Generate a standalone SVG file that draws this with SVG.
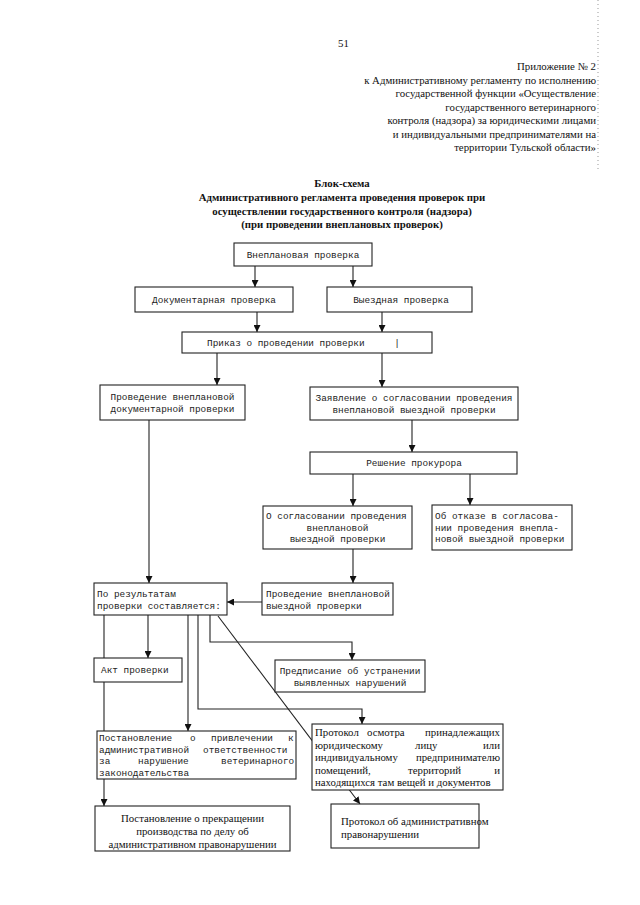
<svg xmlns="http://www.w3.org/2000/svg" width="640" height="905" viewBox="0 0 640 905">
<style>
.bg{fill:#ffffff}
.box{fill:#ffffff;stroke:#222;stroke-width:1.1}
.mono{font-family:"Liberation Mono","DejaVu Sans Mono",monospace;font-size:9.4px;fill:#222}
.serif{font-family:"Liberation Serif","Times New Roman",serif;font-size:10.8px;fill:#111}
.title{font-family:"Liberation Serif","Times New Roman",serif;font-size:10.8px;font-weight:bold;fill:#111;text-anchor:middle}
.hdr{font-family:"Liberation Serif","Times New Roman",serif;font-size:10.8px;fill:#111;text-anchor:end}
.c{text-anchor:middle}
.e{text-anchor:end}
.ln{fill:none;stroke:#222;stroke-width:1.1}
.arr{marker-end:url(#ah)}
.scan{fill:none;stroke:#999;stroke-width:1;stroke-dasharray:1,3}
</style>
<defs>
<marker id="ah" markerUnits="userSpaceOnUse" markerWidth="7" markerHeight="7" refX="7" refY="3.5" orient="auto">
<path d="M0,0 L7,3.5 L0,7 z" fill="#111"/>
</marker>
</defs>
<rect class="bg" x="0" y="0" width="640" height="905"/>
<line class="scan" x1="598" y1="0" x2="598" y2="170"/>

<g id="header">
<text class="serif" x="338" y="47">51</text>
<text class="hdr" x="596" y="70">Приложение № 2</text>
<text class="hdr" x="596" y="83.5">к Административному регламенту по исполнению</text>
<text class="hdr" x="596" y="97">государственной функции «Осуществление</text>
<text class="hdr" x="596" y="110.5">государственного ветеринарного</text>
<text class="hdr" x="596" y="124">контроля (надзора) за юридическими лицами</text>
<text class="hdr" x="596" y="137.5">и индивидуальными предпринимателями на</text>
<text class="hdr" x="596" y="151">территории Тульской области»</text>
</g>

<g id="title">
<text class="title" x="342" y="187">Блок-схема</text>
<text class="title" x="342" y="201">Административного регламента проведения проверок при</text>
<text class="title" x="342" y="215">осуществлении государственного контроля (надзора)</text>
<text class="title" x="342" y="228">(при проведении внеплановых проверок)</text>
</g>

<g id="connectors">
<line class="ln arr" x1="255" y1="266" x2="255" y2="287"/>
<line class="ln arr" x1="353" y1="266" x2="353" y2="287"/>
<line class="ln arr" x1="257" y1="312" x2="257" y2="332"/>
<line class="ln arr" x1="382" y1="312" x2="382" y2="332"/>
<line class="ln arr" x1="217" y1="353" x2="217" y2="385"/>
<line class="ln arr" x1="382" y1="353" x2="382" y2="387"/>
<line class="ln arr" x1="149" y1="420" x2="149" y2="583"/>
<line class="ln arr" x1="412" y1="420" x2="412" y2="452"/>
<line class="ln arr" x1="353" y1="474" x2="353" y2="506"/>
<line class="ln arr" x1="470" y1="474" x2="470" y2="505"/>
<line class="ln arr" x1="353" y1="549" x2="353" y2="583"/>
<line class="ln arr" x1="262" y1="602" x2="227" y2="602"/>
<line class="ln arr" x1="148" y1="615" x2="148" y2="658"/>
<line class="ln arr" x1="104" y1="615" x2="104" y2="806"/>
<line class="ln arr" x1="188" y1="615" x2="188" y2="731"/>
<polyline class="ln arr" points="198,615 198,709 362,709 362,724"/>
<polyline class="ln arr" points="210,615 210,642 352,642 352,660"/>
<line class="ln arr" x1="218" y1="616" x2="360" y2="804"/>
</g>

<g id="n1">
<rect class="box" x="234" y="243" width="138" height="23"/>
<text class="mono c" x="303" y="258">Внеплановая проверка</text>
</g>
<g id="n2">
<rect class="box" x="135" y="287" width="158" height="25"/>
<text class="mono c" x="214" y="303">Документарная проверка</text>
</g>
<g id="n3">
<rect class="box" x="327" y="287" width="145" height="25"/>
<text class="mono c" x="401" y="303">Выездная проверка</text>
</g>
<g id="n4">
<rect class="box" x="182" y="332" width="250" height="21"/>
<text class="mono" x="207" y="346">Приказ о проведении проверки</text>
<text class="mono c" x="397" y="346">|</text>
</g>
<g id="n5">
<rect class="box" x="100" y="385" width="145" height="35"/>
<text class="mono c" x="172.5" y="400">Проведение внеплановой</text>
<text class="mono c" x="172.5" y="412">документарной проверки</text>
</g>
<g id="n6">
<rect class="box" x="310" y="387" width="208" height="33"/>
<text class="mono c" x="414" y="401">Заявление о согласовании проведения</text>
<text class="mono c" x="414" y="413">внеплановой выездной проверки</text>
</g>
<g id="n7">
<rect class="box" x="310" y="452" width="207" height="22"/>
<text class="mono c" x="414" y="466">Решение прокурора</text>
</g>
<g id="n8">
<rect class="box" x="263" y="506" width="149" height="43"/>
<text class="mono" x="266" y="519">О согласовании проведения</text>
<text class="mono c" x="337.5" y="530.5">внеплановой</text>
<text class="mono c" x="337.5" y="542">выездной проверки</text>
</g>
<g id="n9">
<rect class="box" x="432" y="505" width="140" height="45"/>
<text class="mono" x="435" y="519">Об отказе в согласова-</text>
<text class="mono" x="435" y="530.5">нии проведения внепла-</text>
<text class="mono" x="435" y="542">новой выездной проверки</text>
</g>
<g id="n10">
<rect class="box" x="94" y="583" width="133" height="32"/>
<text class="mono" x="97" y="597">По результатам</text>
<text class="mono" x="97" y="609">проверки составляется:</text>
</g>
<g id="n11">
<rect class="box" x="262" y="583" width="131" height="32"/>
<text class="mono" x="266" y="597">Проведение внеплановой</text>
<text class="mono" x="266" y="609">выездной проверки</text>
</g>
<g id="n12">
<rect class="box" x="94" y="658" width="88" height="24"/>
<text class="mono" x="101" y="673">Акт проверки</text>
</g>
<g id="n13">
<rect class="box" x="275" y="660" width="150" height="32"/>
<text class="mono c" x="350" y="674">Предписание об устранении</text>
<text class="mono c" x="350" y="686">выявленных нарушений</text>
</g>
<g id="n14">
<rect class="box" x="97" y="731" width="199" height="48"/>
<text class="mono" y="741"><tspan x="99">Постановление</tspan><tspan x="190">о</tspan><tspan x="211">привлечении</tspan><tspan x="288">к</tspan></text>
<text class="mono" y="752.5"><tspan x="99">административной</tspan><tspan x="203">ответственности</tspan></text>
<text class="mono" y="764"><tspan x="99">за</tspan><tspan x="138">нарушение</tspan><tspan x="221">ветеринарного</tspan></text>
<text class="mono" x="99" y="775.5">законодательства</text>
</g>
<g id="n15">
<rect class="box" x="312" y="724" width="191" height="66"/>
<text class="serif" y="736"><tspan x="315">Протокол</tspan><tspan x="367">осмотра</tspan></text>
<text class="serif e" x="500" y="736">принадлежащих</text>
<text class="serif" y="748.5"><tspan x="315">юридическому</tspan><tspan x="415">лицу</tspan></text>
<text class="serif e" x="500" y="748.5">или</text>
<text class="serif" x="315" y="761">индивидуальному</text>
<text class="serif e" x="500" y="761">предпринимателю</text>
<text class="serif" y="773.5"><tspan x="315">помещений,</tspan><tspan x="408">территорий</tspan></text>
<text class="serif e" x="500" y="773.5">и</text>
<text class="serif" x="315" y="786">находящихся там вещей и документов</text>
</g>
<g id="n16">
<rect class="box" x="95" y="806" width="195" height="45"/>
<text class="serif c" x="192.5" y="822">Постановление о прекращении</text>
<text class="serif c" x="192.5" y="835">производства по делу об</text>
<text class="serif c" x="192.5" y="848">административном правонарушении</text>
</g>
<g id="n17">
<rect class="box" x="331" y="804" width="148" height="44"/>
<text class="serif" x="341" y="825">Протокол об административном</text>
<text class="serif" x="341" y="838">правонарушении</text>
</g>
</svg>
